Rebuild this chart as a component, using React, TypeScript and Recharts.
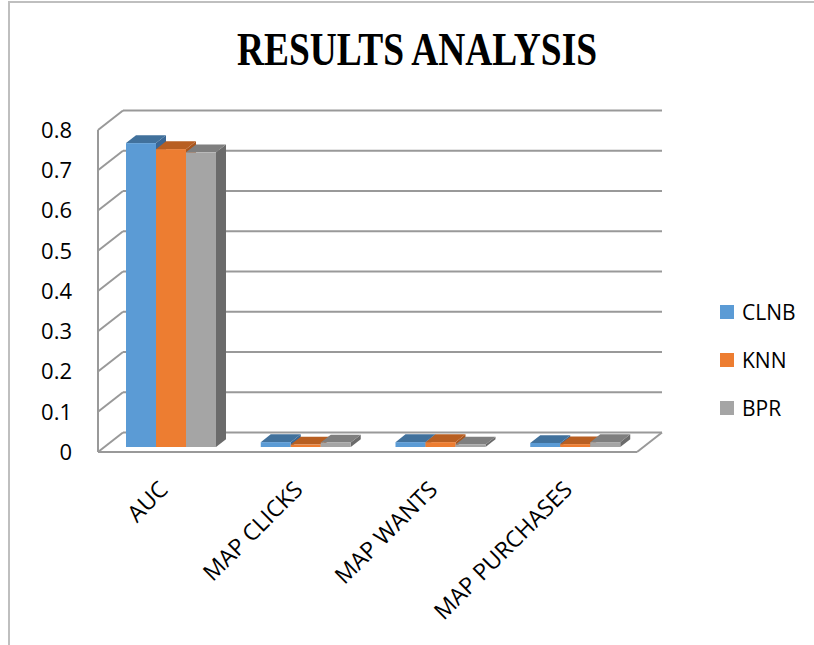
import React from 'react';
import { BarChart, Bar, XAxis, YAxis, CartesianGrid } from 'recharts';

const categories = ['AUC', 'MAP CLICKS', 'MAP WANTS', 'MAP PURCHASES'];
const clnbValues = [0.755, 0.012, 0.012, 0.01];
const knnValues = [0.74, 0.006, 0.012, 0.007];
const bprValues = [0.732, 0.011, 0.006, 0.012];
const yTicks = [0, 0.1, 0.2, 0.3, 0.4, 0.5, 0.6, 0.7, 0.8];
const seriesNames = ['CLNB', 'KNN', 'BPR'];
const titleText = 'RESULTS ANALYSIS';

const data = categories.map((c, i) => ({
  name: c,
  CLNB: clnbValues[i],
  KNN: knnValues[i],
  BPR: bprValues[i],
}));

const palette: Record<string, { front: string; top: string; side: string }> = {
  CLNB: { front: '#5B9BD5', top: '#41719C', side: '#3A6795' },
  KNN: { front: '#ED7D31', top: '#B85F22', side: '#A9561E' },
  BPR: { front: '#A5A5A5', top: '#7F7F7F', side: '#6B6B6B' },
};

const WALL_DX = 25;
const WALL_DY = -19.5;
const BAR_OFF_X = 6;
const BAR_OFF_Y = -5;
const BAR_DX = 10;
const BAR_DY = -7.8;
const GRID = '#999999';
const FONT = '"Open Sans", sans-serif';

const makeShape = (key: string) => (props: any) => {
  const { x, y, width, height } = props;
  if (x == null || y == null) return null;
  const c = palette[key];
  const fx = x + BAR_OFF_X;
  const fy = y + BAR_OFF_Y;
  const w = width;
  const h = Math.max(height, 0);
  const topPts = `${fx},${fy} ${fx + BAR_DX},${fy + BAR_DY} ${fx + w + BAR_DX},${fy + BAR_DY} ${fx + w},${fy}`;
  const sidePts = `${fx + w},${fy} ${fx + w + BAR_DX},${fy + BAR_DY} ${fx + w + BAR_DX},${fy + h + BAR_DY} ${fx + w},${fy + h}`;
  return (
    <g>
      <polygon points={sidePts} fill={c.side} />
      <polygon points={topPts} fill={c.top} />
      <rect x={fx} y={fy} width={w} height={h} fill={c.front} />
    </g>
  );
};

const gridLine = (props: any) => {
  const { x1, y1, x2, index } = props;
  const bottom = (props.y ?? 0) + (props.height ?? 0);
  const isFloor = Math.abs(y1 - bottom) < 1;
  return (
    <g key={`gl-${index}-${y1}`}>
      <line x1={x1} y1={y1} x2={x1 + WALL_DX} y2={y1 + WALL_DY} stroke={GRID} strokeWidth={2} />
      <line x1={x1 + WALL_DX} y1={y1 + WALL_DY} x2={x2 + WALL_DX} y2={y1 + WALL_DY} stroke={GRID} strokeWidth={2} />
      {isFloor && (
        <line x1={x2} y1={y1} x2={x2 + WALL_DX} y2={y1 + WALL_DY} stroke={GRID} strokeWidth={2} />
      )}
    </g>
  );
};

const XTick = (props: any) => {
  const { x, y, payload } = props;
  const ax = x + 4;
  const ay = y + 31;
  return (
    <text
      x={ax}
      y={ay}
      transform={`rotate(-45, ${ax}, ${ay})`}
      textAnchor="end"
      fontFamily={FONT}
      fontSize={23}
      fill="#000"
    >
      {payload.value}
    </text>
  );
};

export default function App() {
  return (
    <div style={{ position: 'absolute', left: 0, top: 0, width: 814, height: 645, background: '#fff' }}>
      <div
        style={{
          position: 'absolute',
          left: 8,
          top: 1,
          width: 806,
          height: 644,
          borderLeft: '2px solid #bfbfbf',
          borderTop: '2px solid #bfbfbf',
        }}
      />
      <svg width={814} height={100} style={{ position: 'absolute', left: 0, top: 0 }}>
        <text
          x={417}
          y={65}
          textAnchor="middle"
          fontFamily='"Liberation Serif", "Times New Roman", serif'
          fontWeight="bold"
          fontSize={46}
          textLength={360}
          lengthAdjust="spacingAndGlyphs"
          fill="#000"
        >
          {titleText}
        </text>
      </svg>
      <div style={{ position: 'absolute', left: 0, top: 0 }}>
        <BarChart
          width={814}
          height={645}
          data={data}
          margin={{ top: 130, right: 177, left: 38, bottom: 133 }}
          barCategoryGap={22}
          barGap={0}
        >
          <CartesianGrid vertical={false} horizontal={gridLine} />
          <XAxis
            dataKey="name"
            axisLine={{ stroke: GRID, strokeWidth: 2 }}
            tickLine={false}
            interval={0}
            height={60}
            tick={<XTick />}
          />
          <YAxis
            domain={[0, 0.8]}
            ticks={yTicks}
            width={60}
            axisLine={{ stroke: GRID, strokeWidth: 2 }}
            tickLine={false}
            tickSize={20}
            tickMargin={6}
            tick={{ fill: '#000', fontSize: 22, fontFamily: FONT }}
            tickFormatter={(v: number) => String(v)}
          />
          {seriesNames.map((s) => (
            <Bar key={s} dataKey={s} fill={palette[s].front} isAnimationActive={false} shape={makeShape(s)} />
          ))}
        </BarChart>
      </div>
      <div style={{ position: 'absolute', left: 720, top: 288 }}>
        {seriesNames.map((s) => (
          <div key={s} style={{ display: 'flex', alignItems: 'center', height: 48, fontFamily: FONT, fontSize: 21, color: '#000' }}>
            <span style={{ display: 'inline-block', width: 14, height: 14, background: palette[s].front, marginRight: 8 }} />
            <span>{s}</span>
          </div>
        ))}
      </div>
    </div>
  );
}
